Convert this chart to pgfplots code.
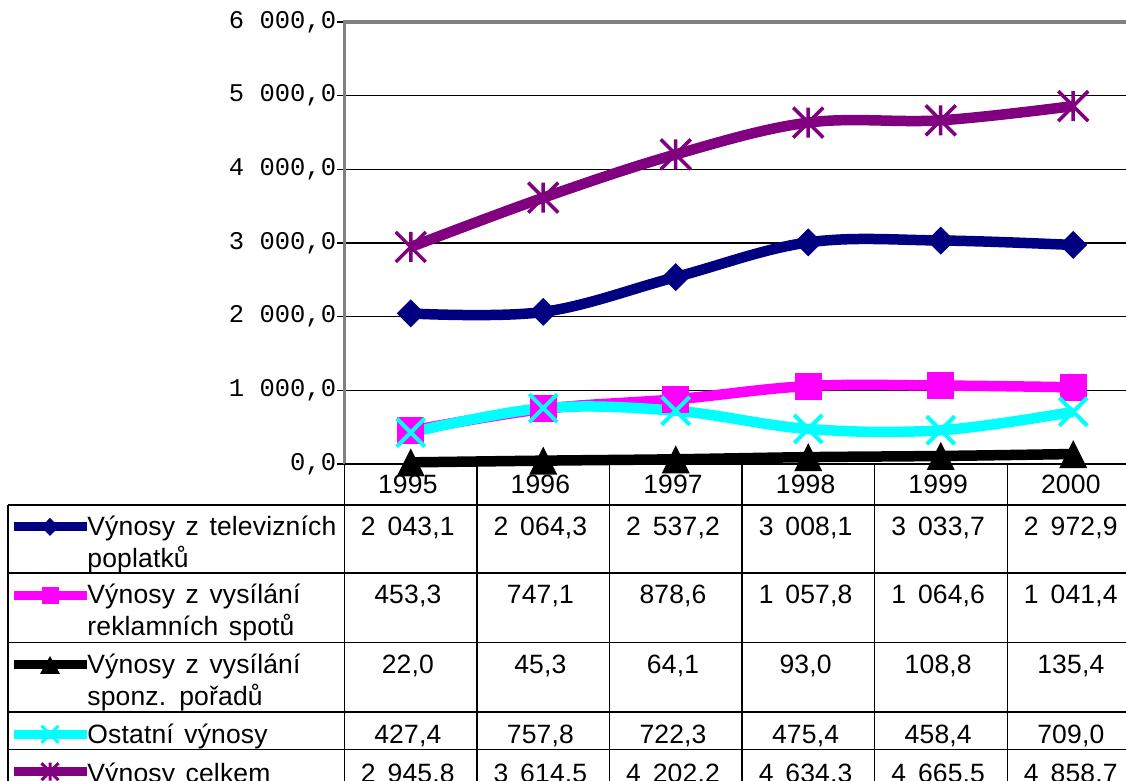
\documentclass[border=0pt]{standalone}
\usepackage{pgfplots}
\pgfplotsset{compat=1.18}
\usepackage{fontspec}
\setmainfont{Liberation Sans}
\newfontfamily\monof{Liberation Mono}
\newfontfamily\tabf[LetterSpace=0.6]{Liberation Sans}
\definecolor{navy}{RGB}{0,0,128}
\definecolor{mag}{RGB}{255,0,255}
\definecolor{cy}{RGB}{0,255,255}
\definecolor{pur}{RGB}{128,0,128}
\definecolor{axgray}{RGB}{128,128,128}

\pgfdeclareplotmark{cdia}{%
  \pgfpathmoveto{\pgfqpoint{0pt}{\pgfplotmarksize}}%
  \pgfpathlineto{\pgfqpoint{\pgfplotmarksize}{0pt}}%
  \pgfpathlineto{\pgfqpoint{0pt}{-\pgfplotmarksize}}%
  \pgfpathlineto{\pgfqpoint{-\pgfplotmarksize}{0pt}}%
  \pgfpathclose\pgfusepathqfill}
\pgfdeclareplotmark{csq}{%
  \pgfpathrectangle{\pgfqpoint{-\pgfplotmarksize}{-\pgfplotmarksize}}{\pgfqpoint{2\pgfplotmarksize}{2\pgfplotmarksize}}%
  \pgfusepathqfill}
\pgfdeclareplotmark{ctri}{%
  \pgfpathmoveto{\pgfqpoint{0pt}{\pgfplotmarksize}}%
  \pgfpathlineto{\pgfqpoint{\pgfplotmarksize}{-\pgfplotmarksize}}%
  \pgfpathlineto{\pgfqpoint{-\pgfplotmarksize}{-\pgfplotmarksize}}%
  \pgfpathclose\pgfusepathqfill}
\pgfdeclareplotmark{cx}{%
  \pgfpathmoveto{\pgfqpoint{-\pgfplotmarksize}{-\pgfplotmarksize}}%
  \pgfpathlineto{\pgfqpoint{\pgfplotmarksize}{\pgfplotmarksize}}%
  \pgfpathmoveto{\pgfqpoint{-\pgfplotmarksize}{\pgfplotmarksize}}%
  \pgfpathlineto{\pgfqpoint{\pgfplotmarksize}{-\pgfplotmarksize}}%
  \pgfusepathqstroke}
\pgfdeclareplotmark{cstar}{%
  \pgfpathmoveto{\pgfqpoint{-\pgfplotmarksize}{-\pgfplotmarksize}}%
  \pgfpathlineto{\pgfqpoint{\pgfplotmarksize}{\pgfplotmarksize}}%
  \pgfpathmoveto{\pgfqpoint{-\pgfplotmarksize}{\pgfplotmarksize}}%
  \pgfpathlineto{\pgfqpoint{\pgfplotmarksize}{-\pgfplotmarksize}}%
  \pgfpathmoveto{\pgfqpoint{0pt}{\pgfplotmarksize}}%
  \pgfpathlineto{\pgfqpoint{0pt}{-\pgfplotmarksize}}%
  \pgfusepathqstroke}

\pgfplotstableread{
yr  tv      rek     spon   ost    cel
0   2043.1  453.3   22.0   427.4  2945.8
1   2064.3  747.1   45.3   757.8  3614.5
2   2537.2  878.6   64.1   722.3  4202.2
3   3008.1  1057.8  93.0   475.4  4634.3
4   3033.7  1064.6  108.8  458.4  4665.5
5   2972.9  1041.4  135.4  709.0  4858.7
}\data

\newcommand{\ts}{\hspace{0.45em}}
\newcommand{\tfont}{\tabf\fontsize{13.25}{16}\selectfont\spaceskip=0.4em\relax}

\begin{document}
\begin{tikzpicture}
\begin{axis}[
  name=main,
  at={(172.25pt,158.5pt)}, anchor=south west,
  scale only axis, width=397.5pt, height=221pt,
  xmin=-0.5, xmax=5.5, ymin=0, ymax=6000,
  xtick=\empty,
  ytick={0,1000,2000,3000,4000,5000,6000},
  yticklabels={{0,0},{1 000,0},{2 000,0},{3 000,0},{4 000,0},{5 000,0},{6 000,0}},
  yticklabel style={font=\monof\fontsize{12.75}{14}\selectfont, anchor=east, inner sep=0pt},
  ytick pos=left,
  tick align=outside, major tick length=4pt,
  tick style={black, line width=0.65pt},
  ymajorgrids, grid style={black, line width=0.65pt},
  axis line style={draw=none},
  clip=false,
  every axis plot/.append style={line width=5.25pt, smooth, tension=0.6},
]
\addplot[navy, mark=cdia, mark size=7pt, mark options={fill=navy}] table[x=yr,y=tv] {\data};
\addplot[mag, mark=csq, mark size=6.75pt, mark options={fill=mag}] table[x=yr,y=rek] {\data};
\addplot[black, mark=ctri, mark size=7pt, mark options={fill=black}] table[x=yr,y=spon] {\data};
\addplot[cy, mark=cx, mark size=7pt, mark options={line width=2pt}] table[x=yr,y=ost] {\data};
\addplot[pur, mark=cstar, mark size=7.5pt, mark options={line width=1.75pt}] table[x=yr,y=cel] {\data};
\draw[axgray, line width=1.6pt] (rel axis cs:0,0) -- (rel axis cs:0,1) -- (rel axis cs:1,1);
\end{axis}

\begin{scope}[x=0.5pt,y=0.5pt]
% table grid
\begin{scope}[line width=0.65pt, black]
\draw (344.5,317) -- (1140,317);
\foreach \yy in {276,208,138.5,69,31.5} {\draw (8,\yy) -- (1140,\yy);}
\draw (8,276) -- (8,-20);
\foreach \xx in {344.5,476.9,609.5,742.1,874.7,1007.3} {\draw (\xx,317) -- (\xx,-20);}
\end{scope}

% years
\foreach \v [count=\j from 0] in {1995,1996,1997,1998,1999,2000}
  {\node[anchor=base, inner sep=0pt, font=\tfont] at ({344.5+132.6*\j+63.3},287.7) {\v};}

% legend keys
\begin{scope}[line width=4.5pt]
\draw[navy] (14,254) -- (87,254);
\fill[navy] (50,263) -- (59,254) -- (50,245) -- (41,254) -- cycle;
\draw[mag] (14,185.5) -- (87,185.5);
\fill[mag] (41.5,177) rectangle (58.5,194);
\draw[black] (14,116) -- (87,116);
\fill[black] (50,125) -- (60,107) -- (40,107) -- cycle;
\draw[cy] (14,46.7) -- (87,46.7);
\draw[cy, line width=1.5pt] (41.5,38.2) -- (58.5,55.2) (41.5,55.2) -- (58.5,38.2);
\draw[pur] (14,9.3) -- (87,9.3);
\draw[pur, line width=1.5pt] (41.5,0.8) -- (58.5,17.8) (41.5,17.8) -- (58.5,0.8) (50,0.3) -- (50,18.3);
\end{scope}

% row labels
\begin{scope}[every node/.style={anchor=base west, inner sep=0pt, font=\tfont}]
\node at (87,245.3) {Výnosy z televizních};
\node at (87,213.3) {poplatků};
\node at (87,177.5) {Výnosy z vysílání};
\node at (87,145.5) {reklamních spotů};
\node at (87,107.7) {Výnosy z vysílání};
\node at (87,75.7) {sponz. pořadů};
\node at (87,37.7) {Ostatní výnosy};
\node at (87,-1.5) {Výnosy celkem};
\end{scope}

% values
\foreach \yb/\vals in {245.3/{{2\ts 043,1},{2\ts 064,3},{2\ts 537,2},{3\ts 008,1},{3\ts 033,7},{2\ts 972,9}},
                      177.5/{{453,3},{747,1},{878,6},{1\ts 057,8},{1\ts 064,6},{1\ts 041,4}},
                      107.7/{{22,0},{45,3},{64,1},{93,0},{108,8},{135,4}},
                      37.7/{{427,4},{757,8},{722,3},{475,4},{458,4},{709,0}},
                      -1.5/{{2\ts 945,8},{3\ts 614,5},{4\ts 202,2},{4\ts 634,3},{4\ts 665,5},{4\ts 858,7}}}
{
  \foreach \v [count=\j from 0] in \vals
    {\node[anchor=base, inner sep=0pt, font=\tfont] at ({344.5+132.6*\j+63.3},\yb) {\v};}
}
\pgfresetboundingbox
\useasboundingbox (0,0) rectangle (1126,781);
\end{scope}
\end{tikzpicture}
\end{document}
